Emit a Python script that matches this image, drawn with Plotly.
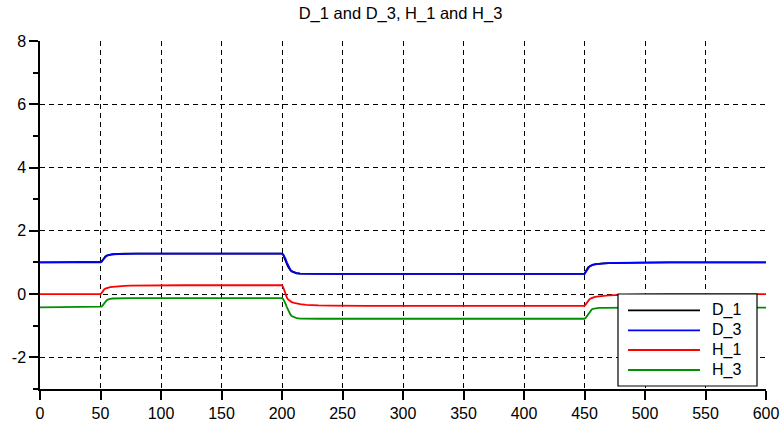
import plotly.graph_objects as go

# Simulation time (s) at the sampled points
time = [0,
        50, 51, 52, 53, 54, 55, 56, 57, 58, 60, 62, 65, 70, 75, 80, 90, 100, 120, 150,
        200, 201, 202, 203, 204, 205, 206, 207, 208, 210, 212, 215, 220, 225, 230, 240, 250, 270, 300,
        350, 400,
        450, 451, 452, 453, 454, 455, 456, 457, 458, 460, 462, 465, 470, 475, 480, 490, 500, 520, 550,
        600]

D_1 = [1.0,
       1.0, 1.04, 1.105, 1.158, 1.192, 1.215, 1.231, 1.242, 1.25, 1.26, 1.266, 1.271, 1.275, 1.278, 1.279, 1.28, 1.28, 1.28, 1.28,
       1.28, 1.238, 1.16, 1.058, 0.955, 0.868, 0.8, 0.752, 0.718, 0.678, 0.658, 0.648, 0.642, 0.64, 0.64, 0.64, 0.64, 0.64, 0.64,
       0.64, 0.64,
       0.64, 0.715, 0.79, 0.842, 0.875, 0.9, 0.916, 0.929, 0.939, 0.953, 0.961, 0.97, 0.979, 0.986, 0.99, 0.995, 0.997, 1.0, 1.0,
       1.0]

D_3 = [1.0,
       1.0, 1.022, 1.078, 1.134, 1.176, 1.204, 1.224, 1.238, 1.246, 1.258, 1.265, 1.27, 1.274, 1.277, 1.279, 1.28, 1.28, 1.28, 1.28,
       1.28, 1.254, 1.197, 1.107, 1.005, 0.909, 0.832, 0.768, 0.73, 0.685, 0.662, 0.65, 0.643, 0.64, 0.64, 0.64, 0.64, 0.64, 0.64,
       0.64, 0.64,
       0.64, 0.694, 0.766, 0.827, 0.863, 0.892, 0.91, 0.924, 0.935, 0.95, 0.959, 0.968, 0.978, 0.986, 0.989, 0.995, 0.997, 1.0, 1.0,
       1.0]

H_1 = [0.0,
       0.0, 0.034, 0.098, 0.146, 0.174, 0.19, 0.202, 0.21, 0.218, 0.23, 0.238, 0.248, 0.258, 0.265, 0.269, 0.274, 0.277, 0.28, 0.28,
       0.28, 0.215, 0.085, -0.032, -0.11, -0.169, -0.208, -0.234, -0.253, -0.279, -0.299, -0.318, -0.338, -0.351, -0.357, -0.364, -0.37, -0.37, -0.37,
       -0.37, -0.37,
       -0.37, -0.326, -0.259, -0.204, -0.167, -0.141, -0.122, -0.107, -0.096, -0.081, -0.07, -0.056, -0.041, -0.03, -0.022, -0.011, -0.006, -0.002, 0.0,
       0.0]

H_3 = [-0.42,
       -0.42, -0.397, -0.348, -0.29, -0.237, -0.2, -0.174, -0.159, -0.149, -0.14, -0.136, -0.133, -0.13, -0.13, -0.13, -0.13, -0.13, -0.13, -0.13,
       -0.13, -0.156, -0.215, -0.306, -0.41, -0.507, -0.592, -0.65, -0.696, -0.741, -0.761, -0.774, -0.78, -0.78, -0.78, -0.78, -0.78, -0.78, -0.78,
       -0.78, -0.78,
       -0.78, -0.752, -0.693, -0.623, -0.563, -0.518, -0.486, -0.465, -0.455, -0.442, -0.437, -0.434, -0.43, -0.43, -0.43, -0.43, -0.43, -0.43, -0.43,
       -0.43]

series_names = ["D_1", "D_3", "H_1", "H_3"]
series_values = [D_1, D_3, H_1, H_3]
series_colors = ["#000000", "#0000ff", "#ff0000", "#009000"]

x_ticks = [0, 50, 100, 150, 200, 250, 300, 350, 400, 450, 500, 550, 600]
y_ticks = [-2, 0, 2, 4, 6, 8]
y_tick_text = ["-2", "0", "2", "4", "6", "8"]

FONT = "Liberation Sans, Arial, sans-serif"
W, H = 781, 425
ML, MR, MT, MB = 40, 15, 41, 36

fig = go.Figure()
for name, vals, col in zip(series_names, series_values, series_colors):
    fig.add_trace(go.Scatter(x=time, y=vals, name=name, mode="lines",
                             line=dict(color=col, width=1.8), showlegend=False))

axis_common = dict(
    showline=True, linecolor="black", linewidth=1.5,
    ticks="outside", ticklen=9, tickwidth=1.5, tickcolor="black",
    showgrid=True, gridcolor="black", gridwidth=1, griddash="5px,4px",
    zeroline=False, automargin=False,
    tickfont=dict(family=FONT, size=16, color="black"),
)

fig.update_xaxes(range=[0, 600], tickvals=x_ticks, **axis_common)
fig.update_yaxes(range=[-3, 8], tickvals=y_ticks, ticktext=y_tick_text,
                 minor=dict(ticks="outside", ticklen=5, tickwidth=1.5, tickcolor="black",
                            dtick=1, tick0=-3, showgrid=False),
                 **axis_common)

# Legend drawn as a framed box in the lower-right corner of the plot area
plot_w = W - ML - MR
plot_h = H - MT - MB


def px(x):
    return (x - ML) / plot_w


def py(y):
    return (H - MB - y) / plot_h


shapes = [dict(type="rect", xref="paper", yref="paper",
               x0=px(618), x1=px(757), y0=py(386), y1=py(294),
               line=dict(color="black", width=1.2), fillcolor="white", layer="above")]
annotations = []
row_y = [310.3, 330.3, 350.0, 370.0]
for name, col, ry in zip(series_names, series_colors, row_y):
    shapes.append(dict(type="line", xref="paper", yref="paper",
                       x0=px(628), x1=px(700), y0=py(ry), y1=py(ry),
                       line=dict(color=col, width=1.8), layer="above"))
    annotations.append(dict(xref="paper", yref="paper", x=px(710), y=py(ry),
                            xanchor="left", yanchor="middle", showarrow=False,
                            text=name, font=dict(family=FONT, size=16, color="black")))

fig.update_layout(
    width=W, height=H,
    margin=dict(l=ML, r=MR, t=MT, b=MB),
    paper_bgcolor="white", plot_bgcolor="white",
    title=dict(text="D_1 and D_3, H_1 and H_3", x=400.5 / W, xref="container",
               xanchor="center", y=1 - 13.5 / H, yref="container", yanchor="middle",
               font=dict(family=FONT, size=16.5, color="black")),
    shapes=shapes, annotations=annotations,
)

fig.write_html("out.html")
